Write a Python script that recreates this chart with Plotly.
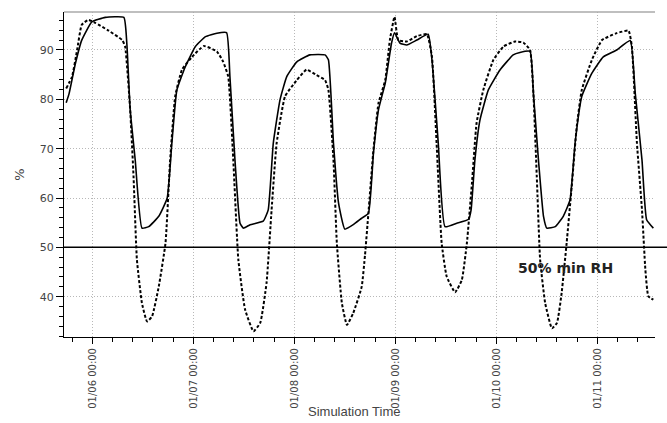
import pandas as pd
import plotly.graph_objects as go

# hours relative to 01/06 00:00
solid_h = [-6.2, -5.5, -4.0, -2.5, -0.1, 3.1, 7.5, 8.2, 9.0, 10.2, 11.8, 13.4, 15.8, 17.8, 18.9, 20.1,
           22.1, 24.5, 26.9, 29.6, 31.9, 32.7, 33.9, 35.1, 35.9, 37.5, 40.6, 41.8, 43.0, 44.6, 46.2,
           48.6, 51.7, 55.3, 56.1, 57.3, 58.5, 60.0, 62.0, 64.0, 65.6, 66.8, 68.0, 69.6, 71.1, 71.8,
           73.1, 74.7, 77.1, 79.8, 80.7, 82.2, 83.8, 86.6, 89.4, 90.0, 90.9, 92.1, 94.1, 96.9, 100.0,
           101.6, 104.0, 104.8, 106.0, 107.2, 108.0, 110.0, 111.9, 113.5, 114.7, 116.3, 118.7, 121.4,
           124.6, 127.8, 129.0, 130.6, 131.7, 133.3]
solid_v = [79.3, 81.2, 87.3, 92.0, 95.7, 96.6, 96.6, 91.4, 77.9, 67.7, 53.9, 54.2, 56.3, 60.0, 71.1, 81.9,
           86.6, 90.7, 92.7, 93.4, 93.5, 84.6, 67.7, 54.9, 53.9, 54.6, 55.3, 57.6, 71.1, 79.9, 84.6,
           87.6, 89.0, 89.0, 88.0, 71.1, 59.0, 53.7, 54.6, 55.9, 56.9, 69.1, 77.9, 83.3, 91.4, 93.5,
           91.4, 91.0, 92.0, 93.2, 88.0, 71.1, 54.2, 54.9, 55.7, 57.6, 67.7, 75.8, 81.9, 86.0, 89.0,
           89.5, 89.7, 81.2, 67.7, 56.3, 53.9, 54.2, 56.3, 59.6, 71.1, 80.6, 85.3, 88.6,
           90.0, 91.9, 81.2, 67.7, 55.6, 53.9]

dotted_h = [-6.2, -4.8, -3.6, -2.5, -0.9, 0.7, 3.9, 7.1, 7.8, 9.0, 9.8, 10.6, 11.8, 13.0, 14.2, 15.8,
            17.4, 18.5, 19.7, 21.3, 23.7, 26.5, 29.6, 31.1, 32.3, 33.5, 34.7, 36.3, 38.3, 39.9, 41.4,
            42.6, 43.8, 45.8, 48.6, 50.9, 53.3, 55.3, 56.1, 57.3, 58.1, 59.3, 60.5, 62.0, 64.0, 64.8,
            65.6, 66.8, 68.0, 69.6, 70.7, 71.8, 72.7, 74.7, 77.1, 79.5, 80.7, 81.8, 83.0, 84.2, 86.2,
            87.8, 89.0, 90.2, 91.3, 92.9, 95.3, 97.7, 100.4, 102.4, 104.0, 104.8, 105.6, 106.4, 107.6,
            109.2, 110.4, 111.5, 112.7, 113.9, 115.1, 116.3, 118.7, 121.1, 124.6, 127.4, 128.2, 129.4,
            130.6, 131.4, 132.1, 133.3]
dotted_v = [82.2, 84.6, 90.0, 95.1, 96.1, 95.5, 93.9, 92.0, 90.7, 77.9, 64.4, 47.5, 38.7, 35.0, 36.0, 42.1,
            50.9, 67.7, 80.6, 86.0, 88.6, 90.8, 89.7, 87.6, 84.6, 67.7, 47.5, 37.4, 33.0, 34.7, 42.8,
            57.6, 71.1, 80.6, 83.9, 86.0, 84.9, 83.9, 81.9, 67.7, 50.9, 38.7, 34.3, 36.7, 42.0, 48.5,
            56.9, 69.8, 79.2, 83.9, 92.0, 96.7, 92.0, 91.7, 92.8, 93.2, 88.6, 71.1, 50.9, 44.1, 40.9,
            43.4, 50.9, 63.0, 75.2, 81.9, 88.0, 90.7, 91.7, 91.5, 90.0, 81.2, 64.4, 47.5, 38.7,
            33.6, 34.7, 40.7, 50.9, 62.3, 74.5, 81.9, 88.0, 92.0, 93.4, 93.9, 90.7, 71.1,
            57.6, 45.5, 40.1, 39.4]

min_rh = 50
min_rh_label = "50% min RH"
x_title = "Simulation Time"
y_title = "%"
base = pd.Timestamp("2001-01-06 00:00")


def to_time(hours):
    return [base + pd.Timedelta(hours=h) for h in hours]


fig = go.Figure()
fig.add_trace(go.Scatter(x=to_time(solid_h), y=solid_v, mode="lines",
                         line=dict(color="black", width=1.6, shape="spline", smoothing=0.4),
                         showlegend=False))
fig.add_trace(go.Scatter(x=to_time(dotted_h), y=dotted_v, mode="lines",
                         line=dict(color="black", width=2, dash="3px,2px", shape="spline", smoothing=0.4),
                         showlegend=False))

x0 = base + pd.Timedelta(hours=-6.72)
x1 = base + pd.Timedelta(hours=133.69)

fig.update_layout(
    width=667, height=423,
    margin=dict(l=64, r=12, t=12, b=86),
    plot_bgcolor="white", paper_bgcolor="white",
    font=dict(family="DejaVu Sans", color="#444"),
    xaxis=dict(
        range=[x0, x1], type="date", automargin=False,
        tickformat="%m/%d %H:%M", tickangle=-90,
        tick0=base, dtick=86400000,
        tickfont=dict(size=10, color="#444"),
        ticks="outside", ticklen=6, tickcolor="black",
        minor=dict(dtick=17280000, tick0=base, ticks="outside", ticklen=4, tickcolor="black",
                   showgrid=False),
        showgrid=True, gridcolor="#b8b8b8", griddash="1px,2px", gridwidth=1,
        showline=True, linecolor="black", linewidth=1,
        zeroline=False,
    ),
    yaxis=dict(
        range=[31.84, 97.69], automargin=False,
        tick0=0, dtick=10,
        tickfont=dict(size=11, color="#444"),
        ticks="outside", ticklen=7, tickcolor="black",
        minor=dict(dtick=2, ticks="outside", ticklen=4, tickcolor="black", showgrid=False),
        showgrid=True, gridcolor="#b8b8b8", griddash="1px,2px", gridwidth=1,
        showline=True, linecolor="black", linewidth=1,
        zeroline=False,
        title=dict(text=y_title, font=dict(size=13, color="#444"), standoff=12),
    ),
    shapes=[
        dict(type="line", xref="paper", yref="paper", x0=0, x1=1, y0=1, y1=1,
             line=dict(color="#aaaaaa", width=1.5)),
        dict(type="line", xref="paper", yref="y", x0=0, x1=1.03, y0=min_rh, y1=min_rh,
             line=dict(color="black", width=1.5)),
    ],
    annotations=[
        dict(x=base + pd.Timedelta(hours=112.5), y=45.9, xref="x", yref="y",
             text="<b>" + min_rh_label + "</b>", showarrow=False,
             font=dict(family="DejaVu Sans", size=14, color="#222")),
        dict(x=0.49, y=-0.228, xref="paper", yref="paper", yanchor="middle",
             text=x_title, showarrow=False,
             font=dict(family="Liberation Sans", size=13, color="#444")),
    ],
)

fig.write_html("out.html")
